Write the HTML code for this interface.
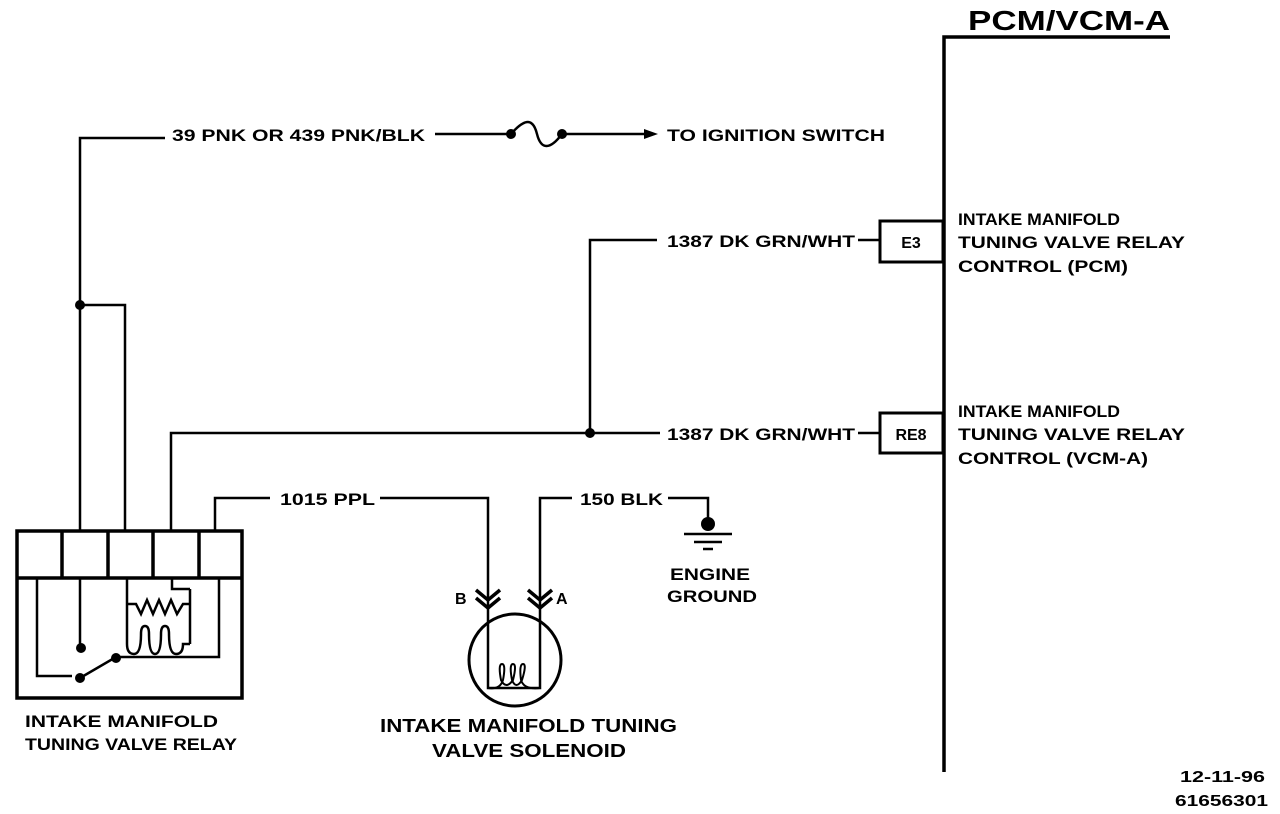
<!DOCTYPE html>
<html><head><meta charset="utf-8"><style>
html,body{margin:0;padding:0;background:#fff;width:1280px;height:814px;overflow:hidden}
svg text{font-family:"Liberation Sans",Arial,sans-serif;font-weight:bold;fill:#000}
</style></head><body>
<svg width="1280" height="814" viewBox="0 0 1280 814" xmlns="http://www.w3.org/2000/svg">
<g stroke="#000" stroke-width="2.5" fill="none">
<path d="M944 772 V37 H1170" stroke-width="3.5"/>
<path d="M80 530 V138 H165"/>
<path d="M435 134 H511"/>
<path d="M511 134 C525 118 533 118 537 134 C541 150 550 150 562 134"/>
<path d="M562 134 H645"/>
<path d="M80 305 H125 V530"/>
<path d="M171 530 V433 H660"/>
<path d="M590 433 V240 H657"/>
<path d="M858 240 H880"/>
<path d="M858 433 H880"/>
<rect x="880" y="221" width="63" height="41" stroke-width="3"/>
<rect x="880" y="413" width="63" height="40" stroke-width="3"/>
<path d="M215 530 V498 H270"/>
<path d="M380 498 H488 V610"/>
<path d="M540 610 V498 H572"/>
<path d="M668 498 H708 V522"/>
<path d="M684 534 H732 M694 542 H722 M703 549 H713"/>
<rect x="17" y="531" width="225" height="167" stroke-width="3.5"/>
<path d="M17 578 H242" stroke-width="3.5"/>
<path d="M62 531 V578 M108 531 V578 M153 531 V578 M199 531 V578" stroke-width="3.5"/>
<path d="M37 578 V676 H72"/>
<path d="M80 578 V647"/>
<path d="M80 678 L116 657 H219 V578"/>
<path d="M127 578 V644 M190 589 V644 M190 589 H172 V578"/>
<path d="M127 604 H136 L141 614 L147 600 L153 614 L159 600 L165 614 L171 600 L177 614 L183 604 H190"/>
<path d="M127 644 Q127 654 134 654 Q141 654 141 634 Q141 626 145 626 Q149 626 149 634 Q149 654 155 654 Q161 654 161 634 Q161 626 165 626 Q169 626 169 634 Q169 654 176 654 Q183 654 183 644 H190"/>
<circle cx="515" cy="660" r="46" stroke-width="3"/>
<path d="M488 610 V688 H540 V610"/>
<path d="M488 688 Q500 690 503 680 Q506 664 502 664 Q498 664 501 680 Q506 690 513 680 Q517 664 513 664 Q509 664 512 680 Q516 690 522 680 Q527 664 523 664 Q519 664 521 680 Q524 690 540 688" stroke-width="2"/>
<path d="M476 590 L488 600 L500 590 M476 598 L488 608 L500 598" stroke-width="3.5"/>
<path d="M528 590 L540 600 L552 590 M528 598 L540 608 L552 598" stroke-width="3.5"/>
</g>
<g fill="#000">
<circle cx="80" cy="305" r="5"/>
<circle cx="590" cy="433" r="5"/>
<circle cx="511" cy="134" r="5"/>
<circle cx="562" cy="134" r="5"/>
<circle cx="708" cy="524" r="7"/>
<circle cx="81" cy="648" r="5"/>
<circle cx="116" cy="658" r="5"/>
<circle cx="80" cy="678" r="5"/>
<path d="M658 134 L644 129 L644 139 Z"/>
</g>
<g font-size="17" lengthAdjust="spacingAndGlyphs">
<text x="968" y="30" font-size="28" textLength="202" lengthAdjust="spacingAndGlyphs">PCM/VCM-A</text>
<text x="172" y="141" textLength="253" lengthAdjust="spacingAndGlyphs">39 PNK OR 439 PNK/BLK</text>
<text x="667" y="141" textLength="218" lengthAdjust="spacingAndGlyphs">TO IGNITION SWITCH</text>
<text x="667" y="247" textLength="188" lengthAdjust="spacingAndGlyphs">1387 DK GRN/WHT</text>
<text x="667" y="440" textLength="188" lengthAdjust="spacingAndGlyphs">1387 DK GRN/WHT</text>
<text x="911" y="248" font-size="16" text-anchor="middle">E3</text>
<text x="911" y="440" font-size="16" text-anchor="middle">RE8</text>
<text x="958" y="225" textLength="162" lengthAdjust="spacingAndGlyphs">INTAKE MANIFOLD</text>
<text x="958" y="248" textLength="227" lengthAdjust="spacingAndGlyphs">TUNING VALVE RELAY</text>
<text x="958" y="272" textLength="170" lengthAdjust="spacingAndGlyphs">CONTROL (PCM)</text>
<text x="958" y="417" textLength="162" lengthAdjust="spacingAndGlyphs">INTAKE MANIFOLD</text>
<text x="958" y="440" textLength="227" lengthAdjust="spacingAndGlyphs">TUNING VALVE RELAY</text>
<text x="958" y="464" textLength="190" lengthAdjust="spacingAndGlyphs">CONTROL (VCM-A)</text>
<text x="280" y="505" textLength="95" lengthAdjust="spacingAndGlyphs">1015 PPL</text>
<text x="580" y="505" textLength="83" lengthAdjust="spacingAndGlyphs">150 BLK</text>
<text x="670" y="580" textLength="80" lengthAdjust="spacingAndGlyphs">ENGINE</text>
<text x="667" y="602" textLength="90" lengthAdjust="spacingAndGlyphs">GROUND</text>
<text x="455" y="604" font-size="16">B</text>
<text x="556" y="604" font-size="16">A</text>
<text x="25" y="727" textLength="193" lengthAdjust="spacingAndGlyphs">INTAKE MANIFOLD</text>
<text x="25" y="750" textLength="212" lengthAdjust="spacingAndGlyphs">TUNING VALVE RELAY</text>
<text x="380" y="732" font-size="18" textLength="297" lengthAdjust="spacingAndGlyphs">INTAKE MANIFOLD TUNING</text>
<text x="432" y="757" font-size="18" textLength="194" lengthAdjust="spacingAndGlyphs">VALVE SOLENOID</text>
<text x="1180" y="782" font-size="16" textLength="85" lengthAdjust="spacingAndGlyphs">12-11-96</text>
<text x="1175" y="806" font-size="16" textLength="93" lengthAdjust="spacingAndGlyphs">61656301</text>
</g>
</svg>
</body></html>
